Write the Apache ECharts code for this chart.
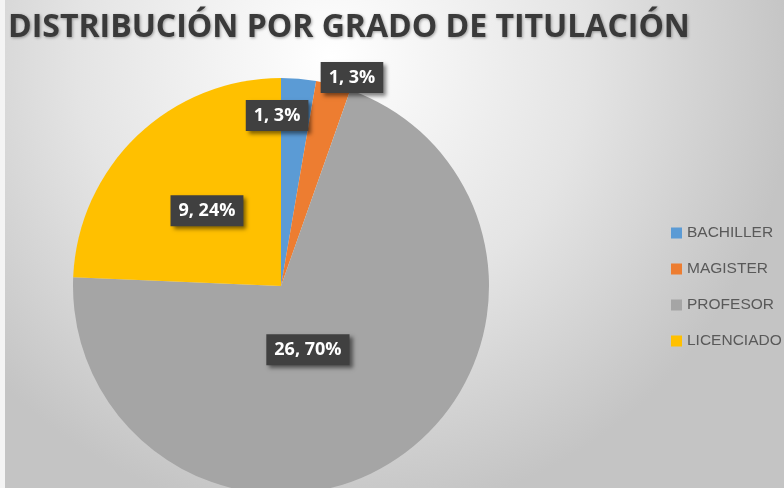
<!DOCTYPE html>
<html>
<head>
<meta charset="utf-8">
<script src="https://cdn.jsdelivr.net/npm/echarts@6/dist/echarts.min.js"></script>
<style>
  html, body { margin: 0; padding: 0; background: #f4f4f4; }
  #main { position: absolute; left: 5px; top: 0; width: 779px; height: 488px; }
</style>
</head>
<body>
<div id="main"></div>
<script>
  // datos
  const categories = ["BACHILLER", "MAGISTER", "PROFESOR", "LICENCIADO"];
  const values = [1, 1, 26, 9];
  const colors = ["#5B9BD5", "#ED7D31", "#A5A5A5", "#FFC000"];
  // desplazamiento de etiquetas (como en Excel)
  const labelShift = [[-13, -64], [44, -105], [-33, -25], [0, 2]];

  const myChart = echarts.init(document.getElementById("main"));

  const total = values.reduce((a, b) => a + b, 0);

  var option = {
    backgroundColor: {
      type: "radial",
      x: 0.42,
      y: 0.12,
      r: 0.95,
      colorStops: [
        { offset: 0, color: "#ffffff" },
        { offset: 0.55, color: "#e4e4e4" },
        { offset: 1, color: "#c4c4c4" },
      ],
    },
    title: {
      text: "DISTRIBUCIÓN POR GRADO DE TITULACIÓN",
      left: 3,
      top: 8,
      padding: 0,
      textStyle: {
        fontFamily: "Open Sans, sans-serif",
        fontWeight: "bold",
        fontSize: 32,
        lineHeight: 40,
        color: "#3a3a3a",
        textShadowColor: "rgba(0,0,0,0.35)",
        textShadowBlur: 3,
        textShadowOffsetX: 1,
        textShadowOffsetY: 1,
      },
    },
    legend: {
      orient: "vertical",
      left: 666,
      top: 225,
      padding: 0,
      itemGap: 20,
      itemWidth: 11,
      itemHeight: 11,
      icon: "rect",
      data: categories,
      textStyle: {
        fontFamily: "Liberation Sans, sans-serif",
        fontSize: 15.5,
        color: "#595959",
      },
    },
    series: [
      {
        name: "Grado",
        type: "pie",
        center: [276, 286],
        radius: [0, 208],
        startAngle: 90,
        clockwise: true,
        silent: true,
        color: colors,
        label: {
          show: true,
          position: "inside",
          formatter: (p) => p.value + ", " + Math.round((p.value / total) * 100) + "%",
          color: "#ffffff",
          fontFamily: "Open Sans, sans-serif",
          fontWeight: "bold",
          fontSize: 18,
          backgroundColor: "#404040",
          padding: [7, 8, 6, 8],
          shadowColor: "rgba(0,0,0,0.5)",
          shadowBlur: 4,
          shadowOffsetX: 3,
          shadowOffsetY: 3,
        },
        labelLayout: (params) => {
          const s = labelShift[params.dataIndex];
          return { dx: s[0], dy: s[1] };
        },
        itemStyle: { borderWidth: 0 },
        data: categories.map((c, i) => ({ name: c, value: values[i] })),
      },
    ],
  };

  myChart.setOption(option);
</script>
</body>
</html>
